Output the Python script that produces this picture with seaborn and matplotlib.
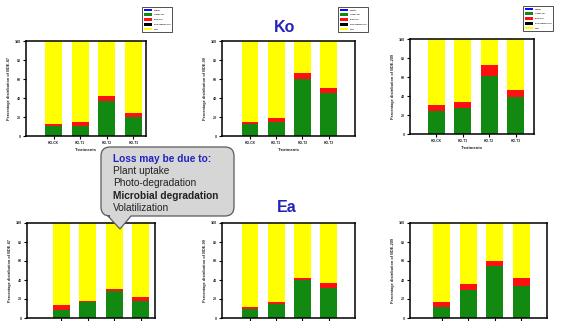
import matplotlib
matplotlib.use("Agg")
import matplotlib.pyplot as plt
from matplotlib.patches import Patch, PathPatch
from matplotlib.path import Path
import numpy as np
import seaborn as sns

sns.set_theme(style="white")
plt.rcParams["font.family"] = ["Liberation Sans", "DejaVu Sans"]

# ---- data -------------------------------------------------------------
treat_ko = ["KO-CK", "KO-T1", "KO-T2", "KO-T3"]
treat_ea = ["EA-CK", "EA-T1", "EA-T2", "EA-T3"]
congeners = ["BDE-47", "BDE-99", "BDE-209"]
components = ["Water", "Upper soil", "Bulk soil", "Rhizosphere soil", "Loss"]

# Ko plants (top row), percent of added congener
ko_water = {"BDE-47": [0, 0, 0, 0], "BDE-99": [0, 0, 0, 0], "BDE-209": [0, 0, 0, 0]}
ko_upper = {"BDE-47": [10.5, 10.8, 37.0, 20.3],
            "BDE-99": [12.2, 14.3, 59.8, 44.8],
            "BDE-209": [24.3, 27.1, 60.6, 38.7]}
ko_bulk = {"BDE-47": [1.7, 4.2, 5.0, 3.5],
           "BDE-99": [2.5, 4.9, 7.0, 6.2],
           "BDE-209": [6.3, 6.7, 11.6, 7.8]}
ko_rhizo = {"BDE-47": [0, 0, 0, 0], "BDE-99": [0, 0, 0, 0], "BDE-209": [0, 0, 0, 0]}

# Ea plants (bottom row)
ea_water = {"BDE-47": [0, 0, 0, 0], "BDE-99": [0, 0, 0, 0], "BDE-209": [0, 0, 0, 0]}
ea_upper = {"BDE-47": [8.7, 16.4, 27.9, 17.4],
            "BDE-99": [9.4, 14.6, 40.1, 31.4],
            "BDE-209": [11.5, 29.6, 54.7, 34.1]}
ea_bulk = {"BDE-47": [5.2, 1.7, 2.8, 4.6],
           "BDE-99": [2.1, 2.1, 2.4, 5.2],
           "BDE-209": [5.2, 5.9, 5.6, 8.4]}
ea_rhizo = {"BDE-47": [0, 0, 0, 0], "BDE-99": [0, 0, 0, 0], "BDE-209": [0, 0, 0, 0]}

colors = {"Water": "#0a0aff", "Upper soil": "#128a12", "Bulk soil": "#ff1010",
          "Rhizosphere soil": "#000000", "Loss": "#ffff00"}

W, H = 565, 321
fig = plt.figure(figsize=(W / 100, H / 100), dpi=100)
fig.patch.set_facecolor("white")


def add_ax(l, r, t, b):
    return fig.add_axes([l / W, (H - b) / H, (r - l) / W, (b - t) / H])


def stacked(ax, cats, water, upper, bulk, rhizo, xlim, congener, show_x):
    water = np.array(water, float)
    upper = np.array(upper, float)
    bulk = np.array(bulk, float)
    rhizo = np.array(rhizo, float)
    loss = 100 - water - upper - bulk - rhizo
    parts = [water, upper, bulk, rhizo, loss]
    cum = np.cumsum(parts, axis=0)
    # draw cumulative tops from the tallest down so each layer shows
    for i in range(len(components) - 1, -1, -1):
        sns.barplot(x=cats, y=cum[i], order=cats, color=colors[components[i]],
                    saturation=1, width=0.64, errorbar=None, linewidth=0,
                    ax=ax)
    ax.set_xlim(*xlim)
    ax.set_ylim(0, 100)
    ax.set_yticks([0, 20, 40, 60, 80, 100])
    ax.set_yticklabels(["0", "20", "40", "60", "80", "100"], fontsize=2.6,
                       fontweight="bold")
    for s in ax.spines.values():
        s.set_visible(True)
        s.set_color("black")
        s.set_linewidth(1.1)
    ax.tick_params(axis="both", direction="out", length=2, width=0.8,
                   color="black", pad=1.5, bottom=True, left=True)
    ax.set_ylabel(f"Percentage distribution of {congener}", fontsize=2.8,
                  fontweight="bold", labelpad=3)
    ax.set_xticks(range(len(cats)))
    if show_x:
        ax.set_xticklabels(cats, fontsize=2.4, fontweight="bold")
        ax.set_xlabel("Treatments", fontsize=3.0, fontweight="bold", labelpad=2)
    else:
        ax.set_xticklabels([])
        ax.set_xlabel("")
    ax.set_facecolor("white")


# top row: Ko
top_boxes = [(26, 146, 41, 136, (-1.04, 3.47)),
             (222, 355, 41, 136, (-1.07, 4.01)),
             (410, 534, 39, 134, (-1.0, 3.7))]
legend_pos = [(142, 7), (338, 7), (523, 6)]
for (l, r, t, b, xl), cg, lp in zip(top_boxes, congeners, legend_pos):
    ax = add_ax(l, r, t, b)
    stacked(ax, treat_ko, ko_water[cg], ko_upper[cg], ko_bulk[cg],
            ko_rhizo[cg], xl, cg, True)
    handles = [Patch(facecolor=colors[c], edgecolor="none") for c in components]
    leg = ax.legend(handles, components, loc="upper left",
                    bbox_to_anchor=(lp[0] / W, 1 - lp[1] / H),
                    bbox_transform=fig.transFigure, fontsize=1.5, frameon=True,
                    fancybox=False, edgecolor="black", borderpad=0.8,
                    handlelength=4.0, handleheight=1.6, labelspacing=1.0,
                    handletextpad=0.8, borderaxespad=0)
    leg.get_frame().set_linewidth(0.6)
    for txt in leg.get_texts():
        txt.set_fontweight("bold")

# bottom row: Ea
bottom_boxes = [(27, 155, 223, 318, (-1.3, 3.53)),
                (222, 355, 223, 318, (-1.07, 4.01)),
                (410, 547, 223, 318, (-1.19, 3.98))]
for (l, r, t, b, xl), cg in zip(bottom_boxes, congeners):
    ax = add_ax(l, r, t, b)
    stacked(ax, treat_ea, ea_water[cg], ea_upper[cg], ea_bulk[cg],
            ea_rhizo[cg], xl, cg, False)

# overlay in pixel units for titles and the callout
ov = fig.add_axes([0, 0, 1, 1], zorder=10)
ov.set_xlim(0, W)
ov.set_ylim(H, 0)
ov.axis("off")
ov.patch.set_alpha(0)

ov.text(285, 28, "Ko", fontsize=11.5, fontweight="bold", color="#2424b8",
        ha="center", va="center")
ov.text(287, 207, "Ea", fontsize=11.5, fontweight="bold", color="#2424b8",
        ha="center", va="center")

# speech-bubble callout
x0, x1, y0, y1, rad = 101, 234, 147, 216, 9
verts = [(x0 + rad, y0), (x1 - rad, y0), (x1, y0), (x1, y0 + rad),
         (x1, y1 - rad), (x1, y1), (x1 - rad, y1),
         (131, y1), (120, 229), (108, y1),
         (x0 + rad, y1), (x0, y1), (x0, y1 - rad),
         (x0, y0 + rad), (x0, y0), (x0 + rad, y0), (x0 + rad, y0)]
codes = [Path.MOVETO, Path.LINETO, Path.CURVE3, Path.CURVE3,
         Path.LINETO, Path.CURVE3, Path.CURVE3,
         Path.LINETO, Path.LINETO, Path.LINETO,
         Path.LINETO, Path.CURVE3, Path.CURVE3,
         Path.LINETO, Path.CURVE3, Path.CURVE3, Path.CLOSEPOLY]
ov.add_patch(PathPatch(Path(verts, codes), facecolor="#d6d6d6",
                       edgecolor="#5a5a5a", linewidth=0.9))

lines = [("Loss may be due to:", "bold", "#2222c0", 159),
         ("Plant uptake", "normal", "#222222", 171),
         ("Photo-degradation", "normal", "#222222", 183.5),
         ("Microbial degradation", "bold", "#222222", 196),
         ("Volatilization", "normal", "#222222", 208)]
for s, w, c, y in lines:
    ov.text(113, y, s, fontsize=7.3, fontweight=w, color=c, ha="left",
            va="center")

fig.savefig("out.png", dpi=100)
